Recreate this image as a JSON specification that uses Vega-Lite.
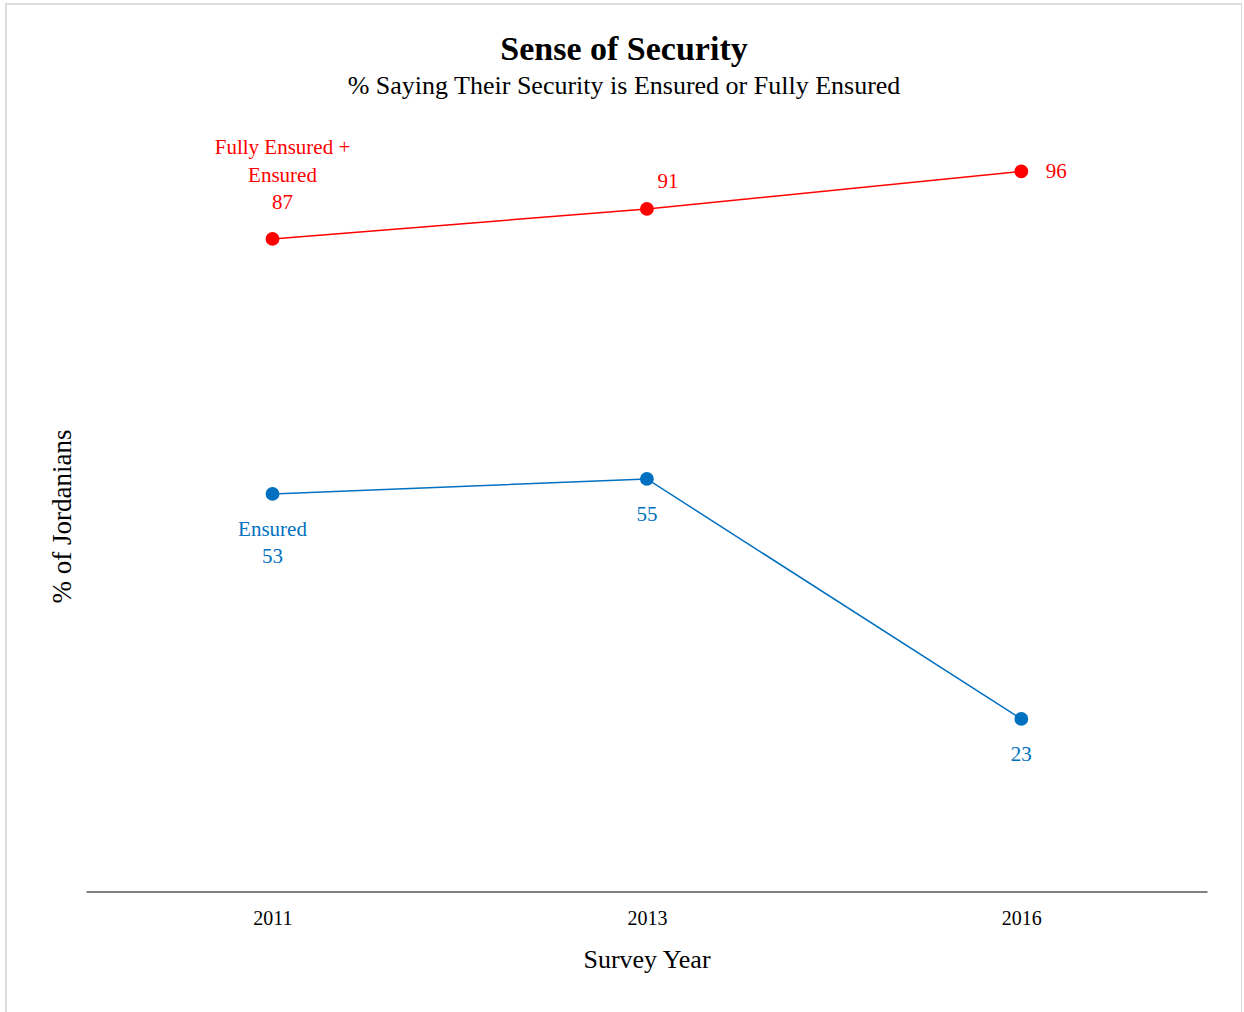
{
  "$schema": "https://vega.github.io/schema/vega-lite/v6.json",
  "width": 1236,
  "height": 1020,
  "autosize": {"type": "none"},
  "padding": {"left": 6, "top": 4, "right": 0, "bottom": 0},
  "background": "white",
  "config": {
    "view": {"stroke": "#dddddd", "strokeWidth": 2},
    "font": "Liberation Serif"
  },
  "title": {
    "text": "Sense of Security",
    "subtitle": "% Saying Their Security is Ensured or Fully Ensured",
    "anchor": "middle",
    "offset": -95,
    "font": "Liberation Serif",
    "subtitleFont": "Liberation Serif",
    "fontSize": 34,
    "fontWeight": "bold",
    "subtitleFontSize": 26,
    "color": "black",
    "subtitleColor": "black",
    "subtitlePadding": 6
  },
  "data": {
    "values": [
      {"year": "2011", "series": "Fully Ensured + Ensured", "value": 87},
      {"year": "2013", "series": "Fully Ensured + Ensured", "value": 91},
      {"year": "2016", "series": "Fully Ensured + Ensured", "value": 96},
      {"year": "2011", "series": "Ensured", "value": 53},
      {"year": "2013", "series": "Ensured", "value": 55},
      {"year": "2016", "series": "Ensured", "value": 23}
    ]
  },
  "encoding": {
    "x": {
      "field": "year",
      "type": "ordinal",
      "scale": {"type": "point", "padding": 0.6506, "align": 0.547},
      "axis": {
        "title": "Survey Year",
        "titleFontSize": 26,
        "titleFontWeight": "normal",
        "titleColor": "black",
        "titleX": 640.5,
        "titleY": 68,
        "titleBaseline": "middle",
        "labelAngle": 0,
        "labelFontSize": 20,
        "labelColor": "black",
        "labelPadding": 17,
        "ticks": false,
        "tickSize": 0,
        "grid": false,
        "domainColor": "#555555",
        "domainWidth": 1.5,
        "domainDash": [0, 80, 1121, 200],
        "offset": -132.5
      }
    },
    "y": {
      "field": "value",
      "type": "quantitative",
      "scale": {"domain": [-17.67, 118.33], "nice": false, "zero": false},
      "axis": {
        "title": "% of Jordanians",
        "titleFontSize": 27,
        "titleFontWeight": "normal",
        "titleColor": "black",
        "titleX": 56,
        "titleY": 512,
        "titleBaseline": "middle",
        "labels": false,
        "ticks": false,
        "domain": false,
        "grid": false
      }
    },
    "color": {
      "field": "series",
      "type": "nominal",
      "scale": {"domain": ["Fully Ensured + Ensured", "Ensured"], "range": ["#ff0000", "#0070c0"]},
      "legend": null
    }
  },
  "layer": [
    {"mark": {"type": "line", "strokeWidth": 1.5}},
    {"mark": {"type": "point", "filled": true, "size": 190, "opacity": 1}},
    {
      "transform": [
        {"filter": "datum.series === 'Fully Ensured + Ensured' && datum.year === '2011'"},
        {"calculate": "['Fully Ensured +', 'Ensured', '' + datum.value]", "as": "lbl"}
      ],
      "mark": {"type": "text", "fontSize": 21, "lineHeight": 27.5, "baseline": "middle", "dx": 10, "dy": -90.5},
      "encoding": {"text": {"field": "lbl"}}
    },
    {
      "transform": [{"filter": "datum.series === 'Fully Ensured + Ensured' && datum.year === '2013'"}],
      "mark": {"type": "text", "fontSize": 21, "baseline": "middle", "dx": 21, "dy": -27},
      "encoding": {"text": {"field": "value", "type": "quantitative"}}
    },
    {
      "transform": [{"filter": "datum.series === 'Fully Ensured + Ensured' && datum.year === '2016'"}],
      "mark": {"type": "text", "fontSize": 21, "baseline": "middle", "dx": 35, "dy": 0.5},
      "encoding": {"text": {"field": "value", "type": "quantitative"}}
    },
    {
      "transform": [
        {"filter": "datum.series === 'Ensured' && datum.year === '2011'"},
        {"calculate": "['Ensured', '' + datum.value]", "as": "lbl"}
      ],
      "mark": {"type": "text", "fontSize": 21, "lineHeight": 27, "baseline": "middle", "dx": 0, "dy": 36.5},
      "encoding": {"text": {"field": "lbl"}}
    },
    {
      "transform": [{"filter": "datum.series === 'Ensured' && datum.year !== '2011'"}],
      "mark": {"type": "text", "fontSize": 21, "baseline": "middle", "dx": 0, "dy": 36},
      "encoding": {"text": {"field": "value", "type": "quantitative"}}
    }
  ]
}
